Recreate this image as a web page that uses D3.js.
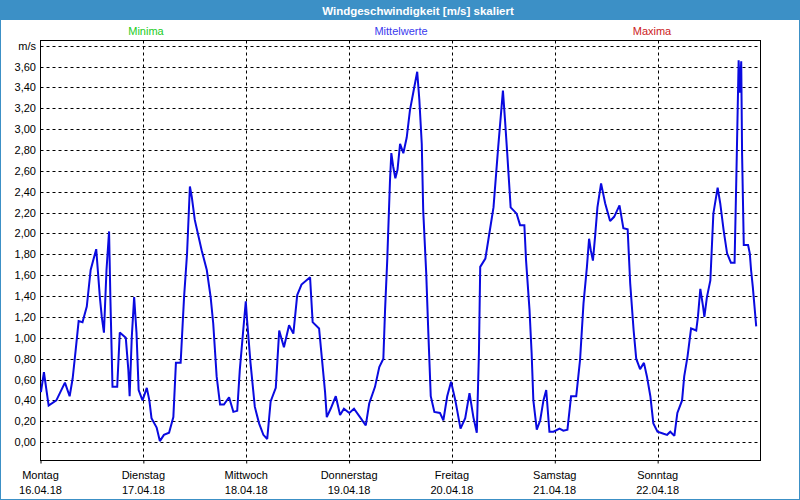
<!DOCTYPE html>
<html>
<head>
<meta charset="utf-8">
<script src="https://cdn.jsdelivr.net/npm/d3@7"></script>
<style>
  html, body { margin: 0; padding: 0; background: #fff; }
  svg { display: block; }
  text { font-family: "Liberation Sans", Arial, sans-serif; }
</style>
</head>
<body>
<svg id="chart" width="800" height="500"></svg>
<script>
// ---- data ----
const title = "Windgeschwindigkeit [m/s] skaliert";
const legendLabels = ["Minima", "Mittelwerte", "Maxima"];
const legendColors = ["#22cc22", "#3a3aee", "#cc2222"];
const dayNames = ["Montag", "Dienstag", "Mittwoch", "Donnerstag", "Freitag", "Samstag", "Sonntag"];
const dayDates = ["16.04.18", "17.04.18", "18.04.18", "19.04.18", "20.04.18", "21.04.18", "22.04.18"];
const yTicks = [0, 0.2, 0.4, 0.6, 0.8, 1.0, 1.2, 1.4, 1.6, 1.8, 2.0, 2.2, 2.4, 2.6, 2.8, 3.0, 3.2, 3.4, 3.6];
const yUnitLevel = 3.8;
// hours since Monday 16.04.18 00:00
const hours = [
  0.1, 0.8, 1.9, 3.7, 5.7, 6.8, 7.5, 8.2, 8.9, 9.8, 10.8, 11.7, 13.0, 13.85, 14.3, 14.8, 15.4, 16.0, 16.3, 16.8,
  17.9, 18.5, 19.1, 19.9, 20.5, 20.8, 21.3, 21.85, 22.4, 22.9, 23.8, 24.8, 25.4, 25.9, 27.1, 27.85, 28.8, 30.0,
  31.0, 31.6, 32.7, 33.5, 34.2, 34.86, 35.3, 36.0, 37.6, 38.8, 39.7, 40.3, 41.1, 41.9, 42.8, 44.0, 45.0, 45.9,
  46.5, 47.3, 47.9, 48.2, 49.0, 50.0, 51.0, 52.0, 52.9, 53.7, 54.9, 55.7, 56.8, 58.0, 59.0, 59.9, 60.9, 62.9,
  63.5, 65.0, 66.4, 66.8, 67.7, 68.9, 69.9, 70.8, 72.05, 73.15, 74.55, 75.9, 76.7, 78.05, 79.05, 80.0, 80.4,
  80.9, 81.55, 81.86, 82.3, 82.8, 83.3, 83.9, 84.66, 85.45, 86.2, 87.2, 87.9, 88.4, 88.96, 89.3, 90.0, 90.5,
  91.06, 91.9, 93.2, 94.0, 94.9, 95.8, 96.8, 98.0, 99.1, 100.1, 101.0, 101.8, 102.3, 102.6, 103.8, 104.5,
  105.7, 106.8, 107.9, 108.4, 108.9, 109.7, 111.1, 111.9, 112.9, 113.3, 114.1, 114.6, 115.0, 115.8, 116.6,
  117.35, 118.0, 118.75, 119.7, 121.1, 122.0, 122.95, 123.8, 125.0, 125.9, 126.7, 127.5, 128.0, 128.4, 128.9,
  129.4, 129.95, 130.8, 131.75, 132.9, 133.85, 135.1, 136.0, 137.0, 137.6, 138.4, 139.0, 139.9, 140.8, 141.5,
  142.3, 143.0, 143.96, 145.4, 146.2, 146.95, 147.9, 148.6, 149.7, 150.2, 150.97, 151.8, 153.0, 153.4, 153.96,
  154.6, 154.9, 155.5, 156.3, 157.0, 158.0, 158.6, 159.4, 160.2, 161.1, 161.95, 162.4, 162.9, 163.2, 163.5,
  163.7, 164.1, 165.1, 165.5, 165.8, 166.2, 166.6, 167.0
];
const speeds = [
  0.48, 0.67, 0.35, 0.40, 0.57, 0.44, 0.61, 0.88, 1.16, 1.15, 1.30, 1.65, 1.85, 1.39, 1.20, 1.05, 1.65, 2.02, 1.39, 0.53,
  0.53, 1.05, 1.03, 1.00, 0.69, 0.44, 1.01, 1.39, 1.05, 0.50, 0.40, 0.52, 0.40, 0.23, 0.14, 0.01, 0.07, 0.09,
  0.24, 0.76, 0.76, 1.39, 1.81, 2.45, 2.35, 2.13, 1.84, 1.65, 1.39, 1.14, 0.63, 0.36, 0.36, 0.43, 0.29, 0.30,
  0.69, 1.07, 1.35, 1.17, 0.76, 0.34, 0.18, 0.07, 0.03, 0.39, 0.52, 1.07, 0.91, 1.12, 1.04, 1.41, 1.51, 1.58,
  1.15, 1.09, 0.48, 0.24, 0.32, 0.44, 0.26, 0.32, 0.28, 0.32, 0.24, 0.16, 0.37, 0.53, 0.72, 0.80, 1.27,
  1.74, 2.51, 2.77, 2.64, 2.53, 2.61, 2.86, 2.77, 2.92, 3.18, 3.40, 3.55, 3.28, 2.86, 2.22, 1.62, 1.04,
  0.44, 0.29, 0.28, 0.21, 0.44, 0.58, 0.40, 0.13, 0.23, 0.47, 0.24, 0.09, 0.85, 1.68, 1.76, 1.94,
  2.25, 2.83, 3.37, 3.08, 2.77, 2.25, 2.19, 2.08, 2.08, 1.74, 1.27, 0.85, 0.40, 0.12, 0.21,
  0.40, 0.50, 0.10, 0.10, 0.13, 0.11, 0.12, 0.44, 0.44, 0.79, 1.33, 1.68, 1.95, 1.84, 1.74,
  1.97, 2.25, 2.48, 2.29, 2.12, 2.16, 2.27, 2.05, 2.04, 1.52, 1.07, 0.80, 0.70, 0.76, 0.63,
  0.44, 0.18, 0.10, 0.08, 0.07, 0.10, 0.06, 0.28, 0.40, 0.63, 0.82, 1.09, 1.07, 1.20, 1.47,
  1.30, 1.20, 1.39, 1.55, 2.19, 2.44, 2.29, 2.03, 1.81, 1.72, 1.72, 2.61, 3.66, 3.35, 3.65,
  2.77, 1.89, 1.89, 1.81, 1.65, 1.49, 1.30, 1.11
];

// ---- layout ----
const W = 800, H = 500;
const plot = { left: 40.5, right: 760.5, top: 40.5, bottom: 460.5 };
const svg = d3.select("#chart");

const x = d3.scaleLinear().domain([0, 168]).range([plot.left, plot.right]);
const y = d3.scaleLinear().domain([-0.176, 3.85]).range([plot.bottom, plot.top]);

// window frame
svg.append("rect").attr("x", 0).attr("y", 0).attr("width", W).attr("height", H).attr("fill", "#3c90c6");
svg.append("rect").attr("x", 1).attr("y", 20).attr("width", W - 2).attr("height", H - 21).attr("fill", "#ffffff");
svg.append("text").attr("x", 418).attr("y", 14.5).attr("text-anchor", "middle")
  .attr("fill", "#ffffff").attr("font-size", "11.5px").attr("font-weight", "bold").text(title);

// legend
const legendX = [146, 401, 652];
legendLabels.forEach((l, i) => {
  svg.append("text").attr("x", legendX[i]).attr("y", 35).attr("text-anchor", "middle")
    .attr("fill", legendColors[i]).attr("font-size", "11px").text(l);
});

// grid
const g = svg.append("g");
const dayTicks = d3.range(0, 7).map(d => d * 24);
g.selectAll("line.hgrid").data(yTicks.concat([yUnitLevel])).join("line")
  .attr("x1", plot.left).attr("x2", plot.right)
  .attr("y1", d => Math.round(y(d)) + 0.5).attr("y2", d => Math.round(y(d)) + 0.5)
  .attr("stroke", "#000").attr("stroke-width", 1).attr("stroke-dasharray", "3,3");
g.selectAll("line.vgrid").data(dayTicks.slice(1)).join("line")
  .attr("x1", d => Math.round(x(d)) + 0.5).attr("x2", d => Math.round(x(d)) + 0.5)
  .attr("y1", plot.top).attr("y2", plot.bottom)
  .attr("stroke", "#000").attr("stroke-width", 1).attr("stroke-dasharray", "3,3");

// y axis labels
const fmt = v => d3.format(".2f")(v).replace(".", ",");
g.selectAll("text.ylab").data(yTicks).join("text")
  .attr("x", 36).attr("y", d => y(d) + 4).attr("text-anchor", "end")
  .attr("font-size", "11px").attr("fill", "#000").text(d => fmt(d));
svg.append("text").attr("x", 36).attr("y", y(yUnitLevel) + 4).attr("text-anchor", "end")
  .attr("font-size", "11px").attr("fill", "#000").text("m/s");

// x axis
const xAxis = d3.axisBottom(x).tickValues(dayTicks).tickSize(3).tickFormat("");
const ax = svg.append("g").attr("transform", `translate(0,${plot.bottom})`).call(xAxis);
ax.select(".domain").remove();
ax.selectAll(".tick line").attr("stroke", "#000");
dayTicks.forEach((d, i) => {
  svg.append("text").attr("x", x(d)).attr("y", 479).attr("text-anchor", "middle")
    .attr("font-size", "11px").attr("fill", "#000").text(dayNames[i]);
  svg.append("text").attr("x", x(d)).attr("y", 494).attr("text-anchor", "middle")
    .attr("font-size", "11px").attr("fill", "#000").text(dayDates[i]);
});

// plot border
svg.append("rect").attr("x", plot.left).attr("y", plot.top)
  .attr("width", plot.right - plot.left).attr("height", plot.bottom - plot.top)
  .attr("fill", "none").attr("stroke", "#000").attr("stroke-width", 1);

// line
const pts = hours.map((h, i) => [h, speeds[i]]);
const line = d3.line().x(d => x(d[0])).y(d => y(d[1]));
svg.append("path").datum(pts).attr("d", line)
  .attr("fill", "none").attr("stroke", "#0a0ae0").attr("stroke-width", 2)
  .attr("stroke-linejoin", "miter").attr("stroke-miterlimit", 2);
</script>
</body>
</html>
